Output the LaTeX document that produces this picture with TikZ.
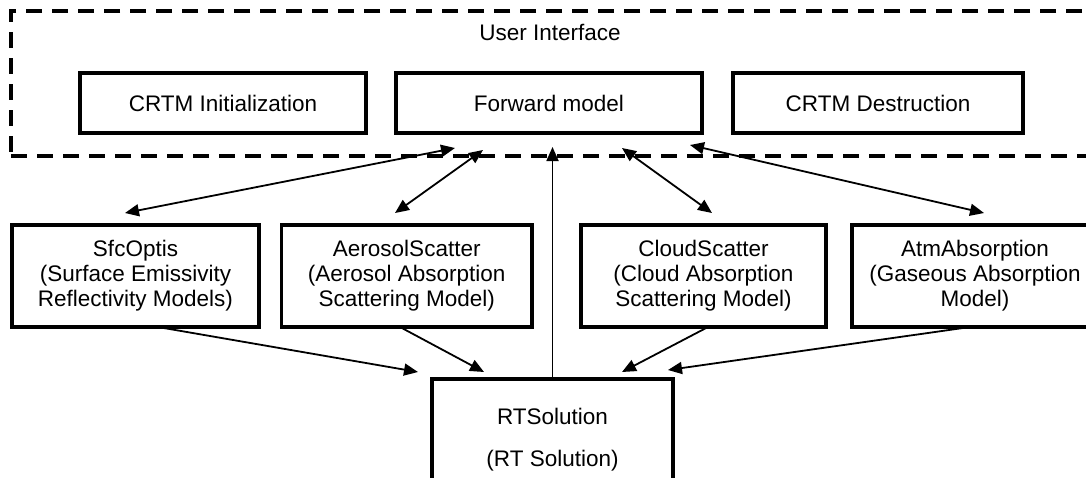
\documentclass[tikz,border=0pt]{standalone}
\usepackage{fontspec}
\setmainfont{Liberation Sans}
\usetikzlibrary{arrows.meta}
\begin{document}
\begin{tikzpicture}[x=1pt,y=-1pt,
  box/.style={draw, line width=3.6pt, rectangle, inner sep=0pt, outer sep=0pt, align=center, font=\fontsize{22.5pt}{25pt}\selectfont},
  uibox/.style={draw, line width=3.6pt, dash pattern=on 16pt off 10pt, rectangle, inner sep=0pt, outer sep=0pt},
  lbl/.style={font=\fontsize{22.5pt}{25pt}\selectfont, inner sep=0pt},
  conn/.style={line width=1.8pt},
  onearrow/.style={-{Triangle[length=14pt,width=12pt]}},
  dblarrow/.style={{Triangle[length=14pt,width=12pt]}-{Triangle[length=14pt,width=12pt]}},
]
\clip (0,0) rectangle (1086,477);
\node[uibox, minimum width=1100pt, minimum height=145pt, anchor=north west] (ui) at (11,11) {};
\node[lbl] (uitxt) at (550,32) {User Interface};
\node[box, minimum width=286pt, minimum height=60pt] (init) at (223,103) {CRTM Initialization};
\node[box, minimum width=306pt, minimum height=60pt] (fwd) at (549,103) {Forward model};
\node[box, minimum width=290pt, minimum height=60pt] (dest) at (878,103) {CRTM Destruction};
\node[box, minimum width=247pt, minimum height=102pt] (sfc) at (135.5,276) {SfcOptis\\(Surface Emissivity\\Reflectivity Models)};
\node[box, minimum width=250.5pt, minimum height=102pt] (aer) at (406.75,276) {AerosolScatter\\(Aerosol Absorption\\Scattering Model)};
\node[box, minimum width=245pt, minimum height=102pt] (cld) at (703.5,276) {CloudScatter\\(Cloud Absorption\\Scattering Model)};
\node[box, minimum width=246pt, minimum height=102pt] (atm) at (975,276) {AtmAbsorption\\(Gaseous Absorption\\Model)};
\node[box, minimum width=241pt, minimum height=121pt, font=\fontsize{22.5pt}{42pt}\selectfont] (rts) at (552.5,439.5) {RTSolution\\(RT Solution)};

\draw[conn, dblarrow] ([xshift=-94pt,yshift=-15pt]fwd.south) -- ([xshift=-10.5pt,yshift=12pt]sfc.north);
\draw[conn, dblarrow] ([xshift=-66pt,yshift=-17pt]fwd.south) -- ([xshift=-11.75pt,yshift=12pt]aer.north);
\draw[conn, onearrow, shorten >=14pt] (rts.north) -- (rts.north |- fwd.south);
\draw[conn, dblarrow] ([xshift=73pt,yshift=-15pt]fwd.south) -- ([xshift=8.5pt,yshift=12pt]cld.north);
\draw[conn, dblarrow] ([xshift=141pt,yshift=-12pt]fwd.south) -- ([xshift=9pt,yshift=12pt]atm.north);

\draw[conn, onearrow] ([xshift=22.5pt]sfc.south) -- ([xshift=-14pt,yshift=7pt]rts.north west);
\draw[conn, onearrow] ([xshift=-6.75pt]aer.south) -- ([xshift=52pt,yshift=7pt]rts.north west);
\draw[conn, onearrow] ([xshift=4.5pt]cld.south) -- ([xshift=-51pt,yshift=7pt]rts.north east);
\draw[conn, onearrow] ([xshift=-5pt]atm.south) -- ([xshift=-5pt,yshift=9pt]rts.north east);
\end{tikzpicture}
\end{document}
